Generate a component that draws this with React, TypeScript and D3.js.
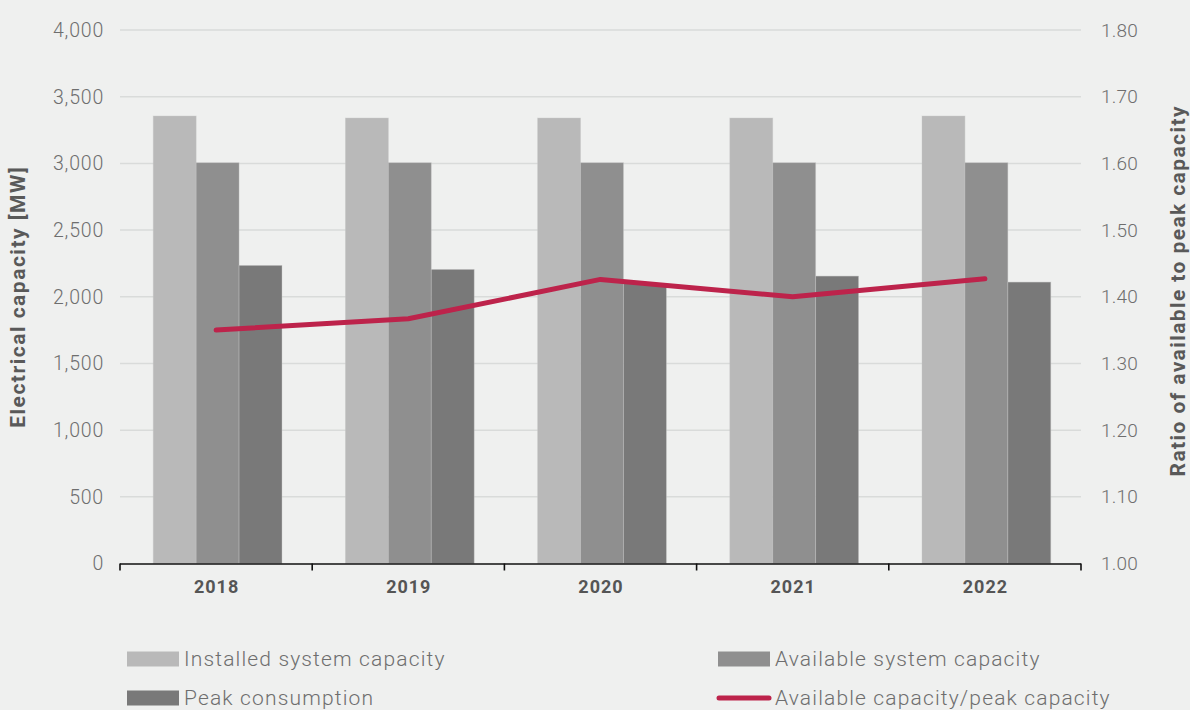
import React from "react";
import * as d3 from "d3";

const years = ["2018", "2019", "2020", "2021", "2022"];
const installed = [3355, 3340, 3340, 3340, 3355];
const available = [3005, 3005, 3005, 3005, 3005];
const peak = [2235, 2205, 2100, 2155, 2110];
const ratio = [1.35, 1.367, 1.426, 1.4, 1.427];
const leftTicks = [0, 500, 1000, 1500, 2000, 2500, 3000, 3500, 4000];
const rightTicks = [1.0, 1.1, 1.2, 1.3, 1.4, 1.5, 1.6, 1.7, 1.8];
const seriesNames = ["Installed system capacity", "Available system capacity", "Peak consumption"];
const lineName = "Available capacity/peak capacity";

const W = 1190, H = 710;
const L = 120, R = 1081, T = 30, B = 563.5;
const colors = ["#b9b9b9", "#8f8f8f", "#797979"];
const red = "#bd234b";
const font = "Roboto, 'Noto Sans', sans-serif";

export default function App() {
  const x0 = d3.scaleBand<string>().domain(years).range([L, R]).paddingInner(0.33).paddingOuter(0.165);
  const x1 = d3.scaleBand<number>().domain([0, 1, 2]).range([0, x0.bandwidth()]);
  const y = d3.scaleLinear().domain([0, 4000]).range([B, T]);
  const y2 = d3.scaleLinear().domain([1.0, 1.8]).range([B, T]);
  const fmt = d3.format(",");
  const series = [installed, available, peak];
  const line = d3.line<number>()
    .x((_, i) => (x0(years[i]) as number) + x0.bandwidth() / 2)
    .y((d) => y2(d));
  const boundaries = d3.range(years.length + 1).map((i) => L + i * ((R - L) / years.length));

  return (
    <svg width={W} height={H} style={{ position: "absolute", left: 0, top: 0, background: "#eff0ef" }}>
      <rect x={0} y={0} width={W} height={H} fill="#eff0ef" />
      {leftTicks.slice(1).map((t) => (
        <line key={t} x1={L} x2={R} y1={y(t)} y2={y(t)} stroke="#d9dbda" strokeWidth={1.5} />
      ))}
      {leftTicks.map((t) => (
        <text key={t} x={104} y={y(t)} dy="0.35em" textAnchor="end" fontFamily={font} fontWeight={300} fontSize={19.5} letterSpacing={0.8} fill="#6e6e6e">
          {fmt(t)}
        </text>
      ))}
      {rightTicks.map((t) => (
        <text key={t} x={1101} y={y2(t)} dy="0.35em" textAnchor="start" fontFamily={font} fontWeight={300} fontSize={19} letterSpacing={0.2} fill="#6e6e6e">
          {t.toFixed(2)}
        </text>
      ))}
      {years.map((yr, i) => (
        <g key={yr} transform={`translate(${(x0(yr) as number) + 1.5},0)`}>
          {series.map((s, j) => (
            <rect key={j} x={x1(j)} y={y(s[i])} width={x1.bandwidth()} height={B - y(s[i])} fill={colors[j]} stroke="#c8c8c8" strokeOpacity={0.5} strokeWidth={0.8} />
          ))}
        </g>
      ))}
      <line x1={L} x2={R} y1={B + 0.5} y2={B + 0.5} stroke="#111" strokeWidth={1.6} />
      {boundaries.map((bx, i) => (
        <line key={i} x1={bx} x2={bx} y1={B} y2={B + 7} stroke="#111" strokeWidth={1.6} />
      ))}
      {years.map((yr) => (
        <text key={yr} x={(x0(yr) as number) + x0.bandwidth() / 2 + 0.5} y={587} dy="0.35em" textAnchor="middle" fontFamily={font} fontWeight={700} fontSize={18} letterSpacing={1} fill="#555">
          {yr}
        </text>
      ))}
      <path d={line(ratio) || ""} fill="none" stroke={red} strokeWidth={5} strokeLinecap="round" strokeLinejoin="round" />
      <text transform={`translate(25,${(T + B) / 2}) rotate(-90)`} textAnchor="middle" fontFamily={font} fontWeight={700} fontSize={21} letterSpacing={1.5} fill="#595959">
        Electrical capacity [MW]
      </text>
      <text transform={`translate(1185,${(T + B) / 2 - 6}) rotate(-90)`} textAnchor="middle" fontFamily={font} fontWeight={700} fontSize={21} letterSpacing={1.4} fill="#595959">
        Ratio of available to peak capacity
      </text>
      {[
        { kind: "rect", c: colors[0], name: seriesNames[0], x: 127, y: 659 },
        { kind: "rect", c: colors[1], name: seriesNames[1], x: 718, y: 659 },
        { kind: "rect", c: colors[2], name: seriesNames[2], x: 127, y: 698 },
        { kind: "line", c: red, name: lineName, x: 718, y: 698 },
      ].map((it, i) => (
        <g key={i}>
          {it.kind === "rect" ? (
            <rect x={it.x} y={it.y - 7.5} width={52} height={15} fill={it.c} />
          ) : (
            <line x1={it.x + 1} x2={it.x + 51} y1={it.y} y2={it.y} stroke={it.c} strokeWidth={5} strokeLinecap="round" />
          )}
          <text x={it.x + 57} y={it.y} dy="0.35em" fontFamily={font} fontWeight={300} fontSize={21} letterSpacing={1.15} fill="#6e6e6e">
            {it.name}
          </text>
        </g>
      ))}
    </svg>
  );
}
